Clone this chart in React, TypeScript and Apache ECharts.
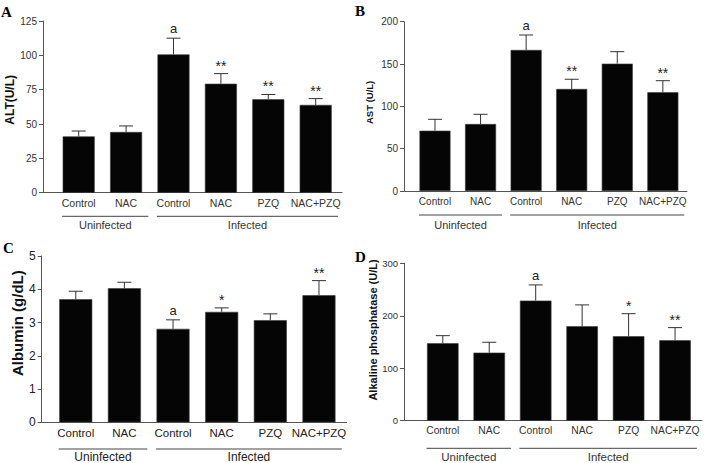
import React, { useEffect, useRef } from "react";
import * as echarts from "echarts";

// ---------- data ----------
const categories = ["Control", "NAC", "Control", "NAC", "PZQ", "NAC+PZQ"];
const groupNames = ["Uninfected", "Infected"];
const groupFirst = [0, 2];
const groupLast = [1, 5];

const altMean = [41, 44.2, 100.7, 79.3, 68, 63.9];
const altSem = [3.9, 4.4, 11.8, 7.4, 3.5, 4.6];
const altMarks = ["", "", "a", "**", "**", "**"];
const altTicks = { max: 125, interval: 25 };

const astMean = [71.2, 79.1, 166.6, 120.5, 150.4, 116.6];
const astSem = [13.5, 11.5, 17.7, 11.5, 14.2, 13.7];
const astMarks = ["", "", "a", "**", "", "**"];
const astTicks = { max: 200, interval: 50 };

const albMean = [3.7, 4.03, 2.81, 3.32, 3.07, 3.82];
const albSem = [0.24, 0.18, 0.27, 0.12, 0.19, 0.44];
const albMarks = ["", "", "a", "*", "", "**"];
const albTicks = { max: 5, interval: 1 };

const alpMean = [147.6, 129.7, 228.9, 180, 161, 153.3];
const alpSem = [14.5, 19.8, 29.9, 40.7, 43, 24.1];
const alpMarks = ["", "", "a", "", "*", "**"];
const alpTicks = { max: 300, interval: 100 };

// ---------- layout / style ----------
const SANS = "'Liberation Sans', Arial, Helvetica, sans-serif";

type Panel = {
  letter: string;
  letterPos: [number, number];
  title: string;
  titleSize: number;
  titleGap: number;
  titleShift: number;
  mean: number[];
  sem: number[];
  marks: string[];
  ticks: { max: number; interval: number };
  grid: { left: number; top: number; width: number; height: number };
  xMin: number;
  xMax: number;
  barWidth: number;
  tickFont: number;
  catFont: number;
  groupFont: number;
  lineOffset: number;
  labelOffset: number;
  textColor: string;
};

const panels: Panel[] = [
  {
    letter: "A", letterPos: [1, 4], title: "ALT(U/L)", titleSize: 12, titleGap: 23, titleShift: 14,
    mean: altMean, sem: altSem, marks: altMarks, ticks: altTicks,
    grid: { left: 43, top: 21, width: 299, height: 171.7 }, xMin: -0.753, xMax: 5.555, barWidth: 32,
    tickFont: 10, catFont: 10.5, groupFont: 11, lineOffset: 23.6, labelOffset: 32, textColor: "#333",
  },
  {
    letter: "B", letterPos: [355, 3], title: "AST (U/L)", titleSize: 9.5, titleGap: 30, titleShift: 8,
    mean: astMean, sem: astSem, marks: astMarks, ticks: astTicks,
    grid: { left: 404, top: 21.7, width: 283, height: 169.3 }, xMin: -0.68, xMax: 5.53, barWidth: 31,
    tickFont: 10, catFont: 10, groupFont: 11, lineOffset: 24, labelOffset: 34, textColor: "#333",
  },
  {
    letter: "C", letterPos: [3, 240], title: "Albumin (g/dL)", titleSize: 15, titleGap: 10, titleShift: 32,
    mean: albMean, sem: albSem, marks: albMarks, ticks: albTicks,
    grid: { left: 41.7, top: 256, width: 305, height: 166.3 }, xMin: -0.7, xMax: 5.57, barWidth: 33,
    tickFont: 12, catFont: 11.5, groupFont: 12, lineOffset: 26.7, labelOffset: 34.7, textColor: "#222",
  },
  {
    letter: "D", letterPos: [355, 249], title: "Alkaline phosphatase (U/L)", titleSize: 11, titleGap: 18, titleShift: 24,
    mean: alpMean, sem: alpSem, marks: alpMarks, ticks: alpTicks,
    grid: { left: 404, top: 263.3, width: 298, height: 157.4 }, xMin: -0.835, xMax: 5.58, barWidth: 31.5,
    tickFont: 9.5, catFont: 10.3, groupFont: 11.5, lineOffset: 27.6, labelOffset: 36, textColor: "#333",
  },
];

const AXIS_COLOR = "#555";
const ERR_COLOR = "#333";

function buildOption() {
  const grids: any[] = [];
  const xAxes: any[] = [];
  const yAxes: any[] = [];
  const series: any[] = [];
  const graphic: any[] = [];

  panels.forEach((p, k) => {
    grids.push({ ...p.grid, containLabel: false });
    xAxes.push({
      type: "value",
      gridIndex: k,
      min: p.xMin,
      max: p.xMax,
      splitLine: { show: false },
      axisTick: { show: false },
      axisLine: { show: true, onZero: false, lineStyle: { color: AXIS_COLOR, width: 1 } },
      axisLabel: {
        customValues: categories.map((_, i) => i),
        formatter: (v: number) => categories[Math.round(v)] ?? "",
        color: p.textColor,
        fontSize: p.catFont,
        fontFamily: SANS,
        margin: 5,
        hideOverlap: false,
      },
    });
    yAxes.push({
      type: "value",
      gridIndex: k,
      min: 0,
      max: p.ticks.max,
      interval: p.ticks.interval,
      splitLine: { show: false },
      axisLine: { show: true, onZero: false, lineStyle: { color: AXIS_COLOR, width: 1 } },
      axisTick: { show: true, inside: false, length: 4, lineStyle: { color: AXIS_COLOR } },
      axisLabel: {
        color: p.textColor,
        fontSize: p.tickFont,
        fontFamily: SANS,
        margin: 6,
      },
      name: p.title,
      nameLocation: "middle",
      nameGap: p.titleGap,
      nameTextStyle: {
        fontWeight: "bold",
        fontSize: p.titleSize,
        fontFamily: SANS,
        color: "#111",
        padding: [0, 0, 0, p.titleShift],
      },
    });

    series.push({
      type: "bar",
      xAxisIndex: k,
      yAxisIndex: k,
      barWidth: p.barWidth,
      data: p.mean.map((v, i) => [i, v]),
      itemStyle: { color: "#050505", borderColor: "#3a3a3a", borderWidth: 0.6 },
      silent: true,
      z: 2,
    });

    const marks = p.marks;
    series.push({
      type: "custom",
      xAxisIndex: k,
      yAxisIndex: k,
      clip: false,
      z: 3,
      data: p.mean.map((v, i) => [i, v, v + p.sem[i]]),
      renderItem: (params: any, api: any) => {
        const x = api.value(0);
        const base = api.coord([x, api.value(1)]);
        const top = api.coord([x, api.value(2)]);
        const mark = marks[params.dataIndex];
        const children: any[] = [
          { type: "line", shape: { x1: top[0], y1: base[1], x2: top[0], y2: top[1] }, style: { stroke: ERR_COLOR, lineWidth: 1 } },
          { type: "line", shape: { x1: top[0] - 7, y1: top[1], x2: top[0] + 7, y2: top[1] }, style: { stroke: ERR_COLOR, lineWidth: 1 } },
        ];
        if (mark) {
          const isStar = mark.indexOf("*") >= 0;
          children.push({
            type: "text",
            x: top[0],
            y: isStar ? top[1] - 1 : top[1] - 3,
            style: {
              text: mark,
              align: "center",
              verticalAlign: "bottom",
              fontSize: isStar ? 14 : 13,
              fontFamily: SANS,
              fill: "#222",
            },
          });
        }
        return { type: "group", children };
      },
    });

    const lineOffset = p.lineOffset;
    const labelOffset = p.labelOffset;
    const gFont = p.groupFont;
    const tColor = p.textColor;
    series.push({
      type: "custom",
      xAxisIndex: k,
      yAxisIndex: k,
      clip: false,
      silent: true,
      data: groupNames.map((_, g) => [groupFirst[g], groupLast[g]]),
      renderItem: (params: any, api: any) => {
        const a = api.coord([api.value(0) - 0.35, 0]);
        const b = api.coord([api.value(1) + 0.47, 0]);
        const y = a[1] + lineOffset;
        return {
          type: "group",
          children: [
            { type: "line", shape: { x1: a[0], y1: y, x2: b[0], y2: y }, style: { stroke: "#444", lineWidth: 1 } },
            {
              type: "text",
              x: (a[0] + b[0]) / 2,
              y: a[1] + labelOffset,
              style: {
                text: groupNames[params.dataIndex],
                align: "center",
                verticalAlign: "middle",
                fontSize: gFont,
                fontFamily: SANS,
                fill: tColor,
              },
            },
          ],
        };
      },
    });

    graphic.push({
      type: "text",
      left: p.letterPos[0],
      top: p.letterPos[1],
      style: {
        text: p.letter,
        font: "bold 15px 'Liberation Serif', 'Times New Roman', serif",
        fill: "#000",
      },
    });
  });

  return {
    animation: false,
    backgroundColor: "#ffffff",
    grid: grids,
    xAxis: xAxes,
    yAxis: yAxes,
    series,
    graphic,
  };
}

export default function App() {
  const ref = useRef<HTMLDivElement>(null);
  useEffect(() => {
    if (!ref.current) return;
    const chart = echarts.init(ref.current, undefined, { renderer: "svg" });
    chart.setOption(buildOption() as any);
    return () => chart.dispose();
  }, []);
  return (
    <div
      ref={ref}
      style={{ position: "fixed", left: 0, top: 0, width: 708, height: 463, background: "#fff" }}
    />
  );
}
